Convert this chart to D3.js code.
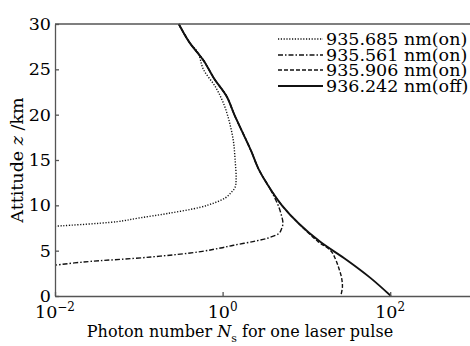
<!DOCTYPE html>
<html>
<head>
<meta charset="utf-8">
<script src="https://cdn.jsdelivr.net/npm/d3@7"></script>
<style>
  body { margin: 0; background: #fff; }
  svg { display: block; }
  text { font-family: "DejaVu Serif", "Liberation Serif", serif; fill: #000; }
</style>
</head>
<body>
<script>
// series: altitude (km) and photon number per pulse
const offZ = [30, 28, 26, 24, 22, 20, 18, 16, 14, 12, 10, 8, 6, 4, 2, 0];
const offN = [0.30, 0.40, 0.59, 0.79, 1.12, 1.38, 1.74, 2.19, 2.69, 3.6, 5.1, 8.1, 14.5, 30, 58, 102];

const dotZ = [30, 28, 26.8, 25, 23, 21, 19, 17, 15, 13, 12, 11.4, 10.8, 10.3, 9.8, 9.1, 8.6, 8.2, 7.7];
const dotN = [0.30, 0.40, 0.51, 0.59, 0.83, 1.05, 1.22, 1.35, 1.41, 1.45, 1.41, 1.26, 1.07, 0.81, 0.55, 0.22, 0.10, 0.055, 0.01];

const dashDotZ = [30, 28, 26, 24, 22, 20, 18, 16, 14, 12, 11, 10, 9, 8, 7.3, 6.9, 6.4, 6.0, 5.6, 5.3, 4.9, 4.3, 3.75, 3.4];
const dashDotN = [0.30, 0.40, 0.59, 0.79, 1.12, 1.38, 1.74, 2.19, 2.69, 3.6, 4.1, 4.6, 5.0, 5.25, 5.0, 4.7, 3.5, 2.3, 1.35, 0.95, 0.55, 0.14, 0.022, 0.01];

const dashZ = [30, 28, 26, 24, 22, 20, 18, 16, 14, 12, 10, 8, 6, 5, 4, 3, 2, 1, 0];
const dashN = [0.30, 0.40, 0.59, 0.79, 1.12, 1.38, 1.74, 2.19, 2.69, 3.6, 5.1, 8.1, 13.8, 19.5, 22.4, 24.5, 26.3, 26.9, 25.7];

const legendNames = ["935.685 nm(on)", "935.561 nm(on)", "935.906 nm(on)", "936.242 nm(off)"];
const dashes = ["1.2,1.6", "5,2,1.5,2", "4,2", null];
const xTickPowers = [-2, 0, 2];
const yTicks = [0, 5, 10, 15, 20, 25, 30];

const W = 470, H = 346;
const plotLeft = 55, plotTop = 24, plotBottom = 296, plotRight = 474;

var svg = d3.select("body").append("svg")
    .attr("width", W)
    .attr("height", H);

var xScale = d3.scaleLog().domain([1e-2, 1e3]).range([plotLeft, plotRight]);
var yScale = d3.scaleLinear().domain([0, 30]).range([plotBottom, plotTop]);

svg.append("clipPath").attr("id", "plotclip")
  .append("rect")
    .attr("x", plotLeft).attr("y", plotTop - 2)
    .attr("width", plotRight - plotLeft).attr("height", plotBottom - plotTop + 2);

// curves
var series = [
  {z: dotZ, n: dotN},
  {z: dashDotZ, n: dashDotN},
  {z: dashZ, n: dashN},
  {z: offZ, n: offN}
];

var line = d3.line()
    .x(function(d) { return xScale(d[1]); })
    .y(function(d) { return yScale(d[0]); })
    .curve(d3.curveCatmullRom.alpha(0.5));

var plot = svg.append("g").attr("clip-path", "url(#plotclip)");
series.forEach(function(s, i) {
  var pts = s.z.map(function(z, j) { return [z, s.n[j]]; });
  plot.append("path")
      .datum(pts)
      .attr("d", line)
      .attr("fill", "none")
      .attr("stroke", "#111")
      .attr("stroke-width", i == 3 ? 1.9 : 1.4)
      .attr("stroke-dasharray", dashes[i]);
});

// axes (ticks point inward)
var xAxis = d3.axisBottom(xScale)
    .tickValues(xTickPowers.map(function(p) { return Math.pow(10, p); }))
    .tickSizeInner(-4).tickSizeOuter(0).tickFormat("");
var yAxis = d3.axisLeft(yScale)
    .tickValues(yTicks).tickSizeInner(-4).tickSizeOuter(0).tickFormat("");

svg.append("g")
    .attr("transform", "translate(0," + plotBottom + ")")
    .call(xAxis);
svg.append("g")
    .attr("transform", "translate(" + plotLeft + ",0)")
    .call(yAxis);
svg.selectAll(".domain, .tick line").attr("stroke", "#555").attr("stroke-width", 1.3);

svg.append("line")
    .attr("x1", plotLeft).attr("x2", W)
    .attr("y1", plotTop).attr("y2", plotTop)
    .attr("stroke", "#555").attr("stroke-width", 1.3);

// tick labels
svg.selectAll(".ylab").data(yTicks).enter().append("text")
    .attr("class", "ylab")
    .attr("x", plotLeft - 4)
    .attr("y", function(d) { return yScale(d) + 6; })
    .attr("text-anchor", "end")
    .style("font-size", "17.5px")
    .text(function(d) { return d; });

var xl = svg.selectAll(".xlab").data(xTickPowers).enter().append("text")
    .attr("class", "xlab")
    .attr("x", function(d) { return xScale(Math.pow(10, d)); })
    .attr("y", 318)
    .attr("text-anchor", "middle")
    .style("font-size", "17.5px");
xl.append("tspan").text("10");
xl.append("tspan")
    .attr("dy", -7)
    .style("font-size", "12px")
    .text(function(d) { return d < 0 ? "\u2212" + (-d) : d; });

// axis titles
var xt = svg.append("text")
    .attr("x", 240).attr("y", 337)
    .attr("text-anchor", "middle")
    .style("font-size", "16px");
xt.append("tspan").text("Photon number ");
xt.append("tspan").style("font-style", "italic").text("N");
xt.append("tspan").attr("dy", 5).style("font-size", "11px").text("s");
xt.append("tspan").attr("dy", -5).text(" for one laser pulse");

var yt = svg.append("text")
    .attr("transform", "translate(23,160) rotate(-90)")
    .attr("text-anchor", "middle")
    .style("font-size", "17.5px");
yt.append("tspan").text("Attitude ");
yt.append("tspan").style("font-style", "italic").text("z");
yt.append("tspan").text(" /km");

// legend
var legendY = [39, 55, 70, 86];
var lg = svg.append("g");
legendNames.forEach(function(name, i) {
  lg.append("line")
      .attr("x1", 278).attr("x2", 323)
      .attr("y1", legendY[i]).attr("y2", legendY[i])
      .attr("stroke", "#111")
      .attr("stroke-width", i == 3 ? 1.9 : 1.4)
      .attr("stroke-dasharray", dashes[i]);
  lg.append("text")
      .attr("x", 326)
      .attr("y", legendY[i] + 6)
      .style("font-size", "17.5px")
      .text(name);
});
</script>
</body>
</html>
